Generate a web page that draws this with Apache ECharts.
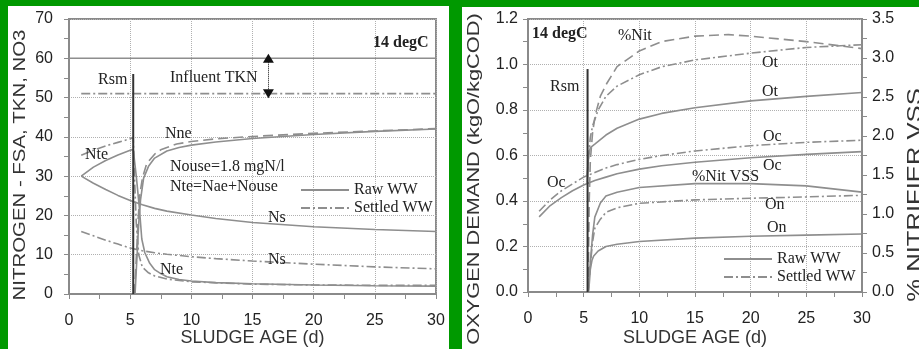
<!DOCTYPE html>
<html><head><meta charset="utf-8">
<script src="https://cdn.jsdelivr.net/npm/echarts@6/dist/echarts.min.js"></script>
<style>
html,body{margin:0;padding:0;background:#009900;overflow:hidden}
#p1{position:absolute;left:8px;top:6px;width:441px;height:343px;background:#fff}
#p2{position:absolute;left:462px;top:7px;width:457px;height:342px;background:#fff}
#c{position:absolute;left:0;top:0;width:919px;height:349px}
</style>
</head><body><div id="p1"></div><div id="p2"></div><div id="c"></div>
<script>
// ---------- Left chart: nitrogen (mgN/l) vs sludge age (d) ----------
const tknRaw      = [[0,60],[30,60]];
const tknSettled  = [[1,51],[30,51]];
const nteRaw      = [[1,30],[2,32.3],[3,34],[4,35.4],[5,36.6],[5.25,36.8],[5.5,30],[5.75,22],[5.95,14],[6.2,10.5],[6.6,7.8],[7,6.2],[7.5,5.2],[8,4.4],[9,3.7],[10,3.3],[12,2.9],[15,2.6],[20,2.3],[25,2.1],[30,2.0]];
const nteSettled  = [[1,35.3],[2,36.6],[3,37.7],[4,38.6],[5,39.5],[5.25,39.8],[5.35,30],[5.5,18],[5.7,10],[6,6.8],[6.5,5.4],[7,4.6],[8,3.8],[10,3.1],[15,2.5],[20,2.3],[25,2.2],[30,2.2]];
const nsRaw       = [[1,30],[2,28.2],[3,26.6],[4,25.1],[5,23.8],[6,22.7],[7,21.8],[8,21.1],[10,20.1],[12,19.2],[15,18.2],[20,17.1],[25,16.4],[30,15.9]];
const nsSettled   = [[1,15.9],[2,14.8],[3,13.7],[4,12.7],[5,11.7],[6,11],[7,10.5],[8,10.1],[10,9.5],[12,9.0],[15,8.4],[20,7.6],[25,6.9],[30,6.4]];
const nneRaw      = [[5.4,0],[5.5,6],[5.6,12],[5.7,18],[5.85,24],[6.1,29.5],[6.5,32.5],[7,34.6],[8,36.4],[9,37.3],[10,37.9],[12,38.7],[15,39.6],[20,40.6],[25,41.4],[30,42]];
const nneSettled  = [[5.35,0],[5.45,6],[5.53,11],[5.65,19],[5.8,25.5],[6,29.5],[6.35,33.2],[7,35.6],[7.5,36.7],[8.8,38.2],[10,38.8],[12,39.5],[15,40.1],[20,40.9],[25,41.5],[30,42.1]];
const rsmLeft     = [[5.25,0],[5.25,56]];
const tknArrow    = [16.3, 60, 51];

// ---------- Right chart: oxygen demand (kgO/kgCOD) and % nitrifier VSS ----------
const ocRaw       = [[1,0.33],[2,0.38],[3,0.415],[4,0.445],[5,0.47],[6,0.49],[7,0.505],[8,0.52],[10,0.54],[12,0.555],[15,0.57],[20,0.59],[25,0.605],[30,0.617]];
const ocSettled   = [[1,0.355],[2,0.405],[3,0.445],[4,0.475],[5,0.505],[6,0.525],[7,0.545],[8,0.56],[10,0.583],[12,0.6],[15,0.62],[20,0.643],[25,0.658],[30,0.667]];
const otRaw       = [[5.3,0.48],[5.45,0.6],[5.6,0.635],[6,0.65],[6.5,0.67],[7,0.69],[8,0.72],[10,0.76],[12,0.785],[15,0.81],[20,0.84],[25,0.86],[30,0.877]];
const otSettled   = [[5.3,0.51],[5.45,0.6],[5.6,0.68],[5.8,0.73],[6.3,0.8],[7,0.86],[8,0.905],[10,0.955],[12,0.99],[15,1.02],[20,1.05],[25,1.075],[30,1.087]];
const nitPct      = [[5.4,0],[5.5,1.17],[5.6,1.69],[5.8,2.04],[6.04,2.27],[6.5,2.51],[7.1,2.68],[8,2.89],[10,3.09],[12,3.21],[15,3.28],[18,3.3],[20,3.28],[25,3.21],[30,3.12]];
const nitVssPct   = [[5.4,0],[5.55,0.29],[5.8,0.73],[6,0.96],[6.5,1.14],[7,1.23],[8,1.28],[10,1.34],[15,1.39],[20,1.39],[25,1.36],[30,1.28]];
const onSettled   = [[5.4,0],[5.6,0.12],[5.8,0.22],[6,0.28],[6.5,0.32],[7,0.35],[8,0.37],[10,0.39],[15,0.405],[20,0.412],[25,0.418],[30,0.425]];
const onRaw       = [[5.45,0],[5.6,0.1],[5.75,0.14],[5.9,0.158],[6.3,0.18],[7,0.2],[8,0.21],[10,0.222],[15,0.237],[20,0.245],[25,0.25],[30,0.255]];
const rsmRight    = [[5.35,0],[5.35,0.98]];

const legendNames = ['Raw WW','Settled WW'];

const GRAY = '#8e8e8e', AX = '#8a8a8a';
const DASHDOT = [9,3,2,3], LONGDASH = [10,5];
const SANS = 'Liberation Sans', SERIF = 'Liberation Serif';

function ln(name, data, xi, yi, type, color, width, z) {
  return { name, type:'line', data, xAxisIndex:xi, yAxisIndex:yi, symbol:'none', showSymbol:false, smooth:false,
    silent:true, z: z || 2,
    lineStyle:{ color: color || GRAY, width: width || 1.6, type: type || 'solid' },
    itemStyle:{ color: color || GRAY } };
}

function xAx(gi, margin, gap) {
  return { type:'value', gridIndex:gi, min:0, max:30, interval:5,
    name:'SLUDGE AGE (d)', nameLocation:'middle', nameGap:gap, nameMoveOverlap:false,
    nameTextStyle:{ fontFamily:SANS, fontSize:18, color:'#333' },
    axisLine:{ lineStyle:{ color:AX, width:2 } },
    axisTick:{ show:true, length:5, lineStyle:{ color:AX } },
    minorTick:{ show:true, splitNumber:2, length:5, lineStyle:{ color:AX } },
    axisLabel:{ fontFamily:SANS, fontSize:16, color:'#222', margin },
    splitLine:{ show:true, lineStyle:{ color:'#b0b0b0', type:'dotted' } } };
}
function yAx(gi, min, max, interval, pos, margin, fmt, split) {
  return { type:'value', gridIndex:gi, min, max, interval, position:pos,
    axisLine:{ show:true, onZero:false, lineStyle:{ color:AX, width:2 } },
    axisTick:{ show:true, length:5, lineStyle:{ color:AX } },
    minorTick:{ show:true, splitNumber:2, length:5, lineStyle:{ color:AX } },
    axisLabel:{ fontFamily:SANS, fontSize:16, color:'#222', margin, formatter:fmt },
    splitLine:{ show:split, lineStyle:{ color:'#b0b0b0', type:'dotted' } } };
}

function txt(x, y, t, opt) {
  opt = opt || {};
  return { type:'text', x, y, z:10, silent:true, style:{ text:t,
    font:(opt.bold?'bold ':'') + (opt.size||16) + 'px "' + (opt.family||SERIF) + '"',
    fill:opt.color||'#222', align:opt.align||'left', verticalAlign:'middle' } };
}

const legendCommon = { data:legendNames, orient:'vertical', itemWidth:48, itemHeight:12, itemGap:2,
  selectedMode:false, itemStyle:{ opacity:0, borderWidth:0 },
  textStyle:{ fontFamily:SERIF, fontSize:16, color:'#222' } };

const chart = echarts.init(document.getElementById('c'), null, { renderer:'canvas' });
chart.setOption({
  animation:false,
  backgroundColor:'transparent',
  grid:[
    { left:69, top:19, width:367, height:275, outerBoundsMode:'none', containLabel:false,
      show:true, borderColor:AX, borderWidth:2, backgroundColor:'transparent' },
    { left:528, top:19, width:334, height:273, outerBoundsMode:'none', containLabel:false,
      show:true, borderColor:AX, borderWidth:2, backgroundColor:'transparent' }
  ],
  xAxis:[ xAx(0, 19, 35), xAx(1, 19, 37) ],
  yAxis:[
    yAx(0, 0, 70, 10, 'left', 16, v => String(v), true),
    yAx(1, 0, 1.2, 0.2, 'left', 10, v => v.toFixed(1), true),
    yAx(1, 0, 3.5, 0.5, 'right', 10, v => v.toFixed(1), false)
  ],
  legend:[
    Object.assign({ left:295, top:177 }, legendCommon),
    Object.assign({ left:718, top:246 }, legendCommon)
  ],
  series:[
    ln('Raw WW', tknRaw, 0, 0),
    ln('Settled WW', tknSettled, 0, 0, DASHDOT),
    ln('Raw WW', nteRaw, 0, 0),
    ln('Settled WW', nteSettled, 0, 0, DASHDOT),
    ln('Raw WW', nsRaw, 0, 0),
    ln('Settled WW', nsSettled, 0, 0, DASHDOT),
    ln('Raw WW', nneRaw, 0, 0),
    ln('Nne settled', nneSettled, 0, 0, LONGDASH),
    ln('Rsm', rsmLeft, 0, 0, 'solid', '#333', 2, 3),
    { name:'arrow', type:'line', data:[], xAxisIndex:0, yAxisIndex:0, silent:true,
      markLine:{ silent:true, symbol:['triangle','triangle'], symbolSize:[11,9], label:{show:false},
        lineStyle:{ color:'#111', width:1, type:'dotted' }, itemStyle:{ color:'#111' },
        data:[[ { coord:[tknArrow[0], tknArrow[1]] }, { coord:[tknArrow[0], tknArrow[2]] } ]] } },

    ln('Raw WW', ocRaw, 1, 1),
    ln('Settled WW', ocSettled, 1, 1, DASHDOT),
    ln('Raw WW', otRaw, 1, 1),
    ln('Settled WW', otSettled, 1, 1, DASHDOT),
    ln('%Nit', nitPct, 1, 2, LONGDASH),
    ln('Raw WW', nitVssPct, 1, 2),
    ln('Settled WW', onSettled, 1, 1, DASHDOT),
    ln('Raw WW', onRaw, 1, 1),
    ln('Rsm', rsmRight, 1, 1, 'solid', '#333', 2, 3)
  ],
  graphic:{ elements:[
    { type:'text', x:20, y:165, rotation:Math.PI/2, scaleX:1.2, z:10, silent:true,
      style:{ text:'NITROGEN - FSA, TKN, NO3', font:'17px "Liberation Sans"', fill:'#333', align:'center', verticalAlign:'middle' } },
    { type:'text', x:474, y:179, rotation:Math.PI/2, scaleX:1.28, z:10, silent:true,
      style:{ text:'OXYGEN DEMAND (kgO/kgCOD)', font:'17px "Liberation Sans"', fill:'#333', align:'center', verticalAlign:'middle' } },
    { type:'text', x:915, y:195, rotation:Math.PI/2, scaleX:1.22, z:10, silent:true,
      style:{ text:'% NITRIFIER VSS', font:'21px "Liberation Sans"', fill:'#333', align:'center', verticalAlign:'middle' } },

    txt(373, 43, '14 degC', { bold:true }),
    txt(170, 78, 'Influent TKN'),
    txt(98, 80, 'Rsm'),
    txt(85, 155, 'Nte'),
    txt(165, 134, 'Nne'),
    txt(170, 167, 'Nouse=1.8 mgN/l'),
    txt(170, 187, 'Nte=Nae+Nouse'),
    txt(268, 218, 'Ns'),
    txt(268, 260, 'Ns'),
    txt(160, 270, 'Nte'),

    txt(532, 34, '14 degC', { bold:true }),
    txt(618, 36, '%Nit'),
    txt(762, 63, 'Ot'),
    txt(550, 87, 'Rsm'),
    txt(762, 92, 'Ot'),
    txt(763, 137, 'Oc'),
    txt(763, 166, 'Oc'),
    txt(547, 183, 'Oc'),
    txt(692, 177, '%Nit VSS'),
    txt(765, 205, 'On'),
    txt(767, 228, 'On')
  ]}
});
</script>
</body></html>
